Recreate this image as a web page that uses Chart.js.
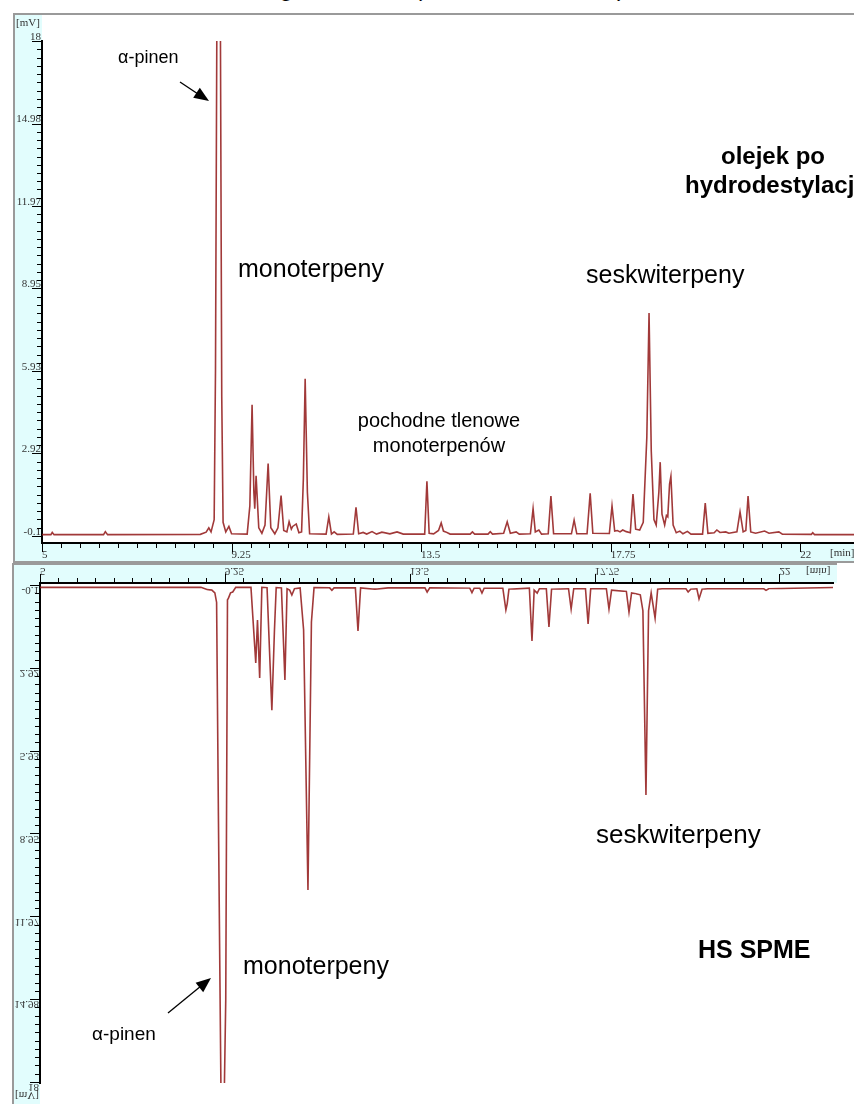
<!DOCTYPE html>
<html lang="pl">
<head>
<meta charset="UTF-8">
<title>Porównanie chromatogramów</title>
<script src="https://cdn.jsdelivr.net/npm/chart.js"></script>
<style>
  html, body { margin: 0; padding: 0; width: 854px; height: 1104px; overflow: hidden; background: #fff; }
  body { position: relative; font-family: "Liberation Sans", Arial, sans-serif; color: #000; }
  canvas { position: absolute; }
  #topChart { left: 13px; top: 13px; }
  #hsChart { left: 12px; top: 563px; transform: scaleY(-1); }
  .lbl { position: absolute; white-space: nowrap; line-height: 1; }
  .bold { font-weight: bold; }
  .center { transform: translateX(-50%); text-align: center; }
  svg { position: absolute; left: 0; top: 0; }
</style>
</head>
<body>
  <div class="lbl" style="left:46px; top:-24px; font-size:24px;">Porównanie chromatogramów GC (kolumna DB-5 MS)</div>

  <canvas id="topChart" width="843" height="550"></canvas>
  <canvas id="hsChart" width="825" height="543"></canvas>

  <!-- opisy: olejek -->
  <div class="lbl" style="left:118px; top:48px; font-size:18px;">α-pinen</div>
  <div class="lbl" style="left:238px; top:256px; font-size:25px;">monoterpeny</div>
  <div class="lbl" style="left:586px; top:262px; font-size:25px;">seskwiterpeny</div>
  <div class="lbl center" style="left:439px; top:410px; font-size:20px;">pochodne tlenowe</div>
  <div class="lbl center" style="left:439px; top:435px; font-size:20px;">monoterpenów</div>
  <div class="lbl bold center" style="left:773px; top:144px; font-size:24px;">olejek po</div>
  <div class="lbl bold center" style="left:773px; top:173px; font-size:24px;">hydrodestylacji</div>

  <!-- opisy: HS SPME -->
  <div class="lbl" style="left:596px; top:821px; font-size:26px;">seskwiterpeny</div>
  <div class="lbl" style="left:243px; top:953px; font-size:25px;">monoterpeny</div>
  <div class="lbl bold" style="left:698px; top:937px; font-size:25px;">HS SPME</div>
  <div class="lbl" style="left:92px; top:1024px; font-size:19px;">α-pinen</div>

  <svg width="854" height="1104">
    <line x1="180" y1="82" x2="198" y2="94" stroke="#000" stroke-width="1.3"/>
    <polygon points="209,101 193.2,97.8 199.8,87.8" fill="#000"/>
    <line x1="168" y1="1013" x2="201" y2="986" stroke="#000" stroke-width="1.3"/>
    <polygon points="211,978 203.2,992.2 195.6,982.8" fill="#000"/>
  </svg>

<script>
  // osie
  const X_TICK_LABELS = ['5', '9.25', '13.5', '17.75', '22'];
  const Y_TICK_LABELS = ['-0.1', '2.92', '5.93', '8.95', '11.97', '14.98', '18'];

  // olejek po hydrodestylacji: czas [min], sygnał [mV]
  const topTime = [
    5.00, 5.20, 5.23, 5.27, 6.38, 6.42, 6.47, 8.55, 8.68, 8.74, 8.79, 8.86, 8.89, 8.92, 8.96, 9.00, 9.03, 9.06,
    9.12, 9.19, 9.25, 9.60, 9.66, 9.71, 9.75, 9.77, 9.80, 9.86, 9.93, 10.00, 10.07, 10.13, 10.22, 10.29, 10.36,
    10.42, 10.49, 10.54, 10.59, 10.62, 10.70, 10.76, 10.82, 10.86, 10.90, 10.95, 11.00, 11.37, 11.43, 11.49,
    11.55, 11.62, 11.98, 12.04, 12.10, 12.20, 12.28, 12.40, 12.50, 12.62, 12.80, 12.96, 13.10, 13.58, 13.63,
    13.68, 13.78, 13.89, 13.95, 14.00, 14.05, 14.15, 14.60, 14.65, 14.70, 15.00, 15.05, 15.10, 15.35, 15.43,
    15.50, 15.63, 15.70, 15.95, 16.01, 16.06, 16.14, 16.20, 16.35, 16.41, 16.47, 16.87, 16.93, 16.99, 17.22,
    17.29, 17.35, 17.72, 17.78, 17.84, 17.90, 17.96, 18.02, 18.10, 18.19, 18.25, 18.31, 18.40, 18.48, 18.56,
    18.61, 18.66, 18.72, 18.77, 18.83, 18.86, 18.90, 18.96, 19.00, 19.03, 19.07, 19.10, 19.15, 19.22, 19.30,
    19.37, 19.47, 19.55, 19.81, 19.87, 19.93, 20.07, 20.13, 20.20, 20.33, 20.40, 20.58, 20.65, 20.72, 20.78,
    20.83, 20.89, 21.00, 21.20, 21.30, 21.52, 21.60, 22.25, 22.28, 22.32, 23.30
  ];
  const topSignal = [
    -0.05, -0.05, 0.03, -0.05, -0.05, 0.06, -0.05, -0.04, 0.04, 0.20, 0.05, 0.50, 6.00, 18.5, 22.0, 18.5, 5.00, 0.40,
    0.05, 0.25, -0.02, -0.03, 1.00, 4.70, 1.50, 0.90, 2.10, 0.20, 0.00, 0.30, 2.55, 0.20, -0.02, 0.20, 1.38,
    0.10, 0.05, 0.42, 0.15, 0.25, 0.34, 0.02, 0.05, 2.00, 5.65, 1.50, -0.02, -0.03, 0.60, -0.03,
    0.05, -0.04, -0.03, 0.95, -0.02, 0.03, -0.03, 0.06, -0.03, 0.04, -0.02, 0.05, -0.03, -0.03, 1.90,
    0.00, -0.02, 0.10, 0.38, 0.08, 0.05, -0.03, -0.03, 0.05, -0.03, -0.03, 0.06, -0.03, 0.00, 0.42,
    0.00, 0.05, -0.03, -0.02, 0.90, 0.05, 0.12, -0.03, -0.02, 1.36, -0.02, -0.02, 0.48, -0.02, -0.02,
    1.46, 0.00, -0.01, 1.00, 0.08, 0.10, 0.05, 0.12, 0.06, 0.02, 1.43, 0.15, 0.12, 0.40, 3.50,
    8.05, 3.00, 0.50, 0.30, 1.50, 2.60, 0.70, 0.30, 0.65, 0.60, 1.80, 2.08, 0.30, 0.02, 0.08,
    -0.02, 0.07, -0.03, -0.03, 1.10, 0.00, 0.02, 0.12, 0.03, 0.05, 0.00, 0.05, 0.78, 0.05, 0.10,
    1.36, 0.05, 0.00, 0.08, 0.00, 0.05, -0.03, -0.04, 0.02, -0.05, -0.05
  ];

  // HS SPME: czas [min], sygnał [mV]
  const hsTime = [
    5.00, 8.70, 8.84, 8.95, 9.02, 9.06, 9.10, 9.16, 9.21, 9.27, 9.31, 9.33, 9.38, 9.43, 9.50, 9.85, 9.96, 10.00,
    10.05, 10.10, 10.22, 10.27, 10.33, 10.39, 10.43, 10.55, 10.63, 10.68, 10.74, 10.79, 10.85, 10.98, 11.06,
    11.16, 11.24, 11.30, 11.66, 11.71, 11.76, 12.25, 12.31, 12.37, 12.70, 13.00, 13.85, 13.90, 13.96, 14.88,
    14.93, 14.98, 15.11, 15.16, 15.21, 15.64, 15.71, 15.74, 15.78, 16.25, 16.31, 16.36, 16.43, 16.48, 16.64,
    16.70, 16.76, 17.15, 17.21, 17.27, 17.54, 17.60, 17.66, 18.02, 18.08, 18.14, 18.48, 18.54, 18.60, 18.70,
    18.80, 18.86, 18.93, 18.99, 19.05, 19.14, 19.20, 19.30, 19.85, 19.90, 19.96, 20.10, 20.15, 20.22, 20.35,
    21.64, 21.69, 21.75, 23.30
  ];
  const hsSignal = [
    -0.05, -0.05, 0.03, 0.05, 0.15, 0.50, 8.00, 18.3, 21.0, 15.0, 0.40, 0.35, 0.15, 0.12, -0.05, -0.05, 2.70, 1.14,
    3.25, -0.05, -0.04, 2.00, 4.42, 1.50, -0.04, -0.03, 3.32, 0.00, 0.05, 0.23, 0.00, -0.03, 1.50,
    10.97, 1.20, -0.04, -0.03, 0.06, -0.03, -0.03, 1.54, -0.03, 0.02, -0.03, -0.03, 0.12, -0.03, -0.02,
    0.14, -0.02, -0.02, 0.16, -0.02, -0.02, 0.77, 0.55, 0.02, -0.02, 1.90, 0.05, 0.16, 0.00, 0.00,
    1.39, 0.02, 0.00, 0.74, 0.00, 0.00, 1.28, 0.00, 0.00, 0.74, 0.05, 0.10, 0.85, 0.15, 0.18,
    0.22, 0.80, 7.51, 0.80, 0.15, 1.07, 0.02, 0.00, 0.00, 0.12, 0.02, 0.00, 0.37, 0.02, 0.00,
    0.00, 0.06, 0.00, -0.05
  ];

  const LINE_COLOR = 'rgba(145, 22, 22, 0.85)';
  const BAND_COLOR = '#e2fdfd';
  const FRAME_COLOR = '#9a9a9a';
  const AXIS_FONT = { family: '"Liberation Serif", "DejaVu Serif", serif', size: 11 };

  // major co 10 kresek, pomiędzy 9 mniejszych
  function buildTicks(labels) {
    const majors = labels.map(Number);
    const ticks = [];
    majors.forEach((v, i) => {
      ticks.push({ value: v });
      if (i < majors.length - 1) {
        const step = (majors[i + 1] - v) / 10;
        for (let k = 1; k < 10; k++) ticks.push({ value: v + k * step });
      }
    });
    return ticks;
  }

  function makeDecor(cfg) {
    return {
      id: 'decor',
      beforeDraw(chart) {
        const { ctx, chartArea: a, width, height } = chart;
        ctx.save();
        ctx.fillStyle = '#fff';
        ctx.fillRect(0, 0, width, height);
        ctx.fillStyle = BAND_COLOR;
        ctx.fillRect(0, 0, a.left, height);
        ctx.fillRect(0, a.bottom, width, height - a.bottom);
        ctx.strokeStyle = FRAME_COLOR;
        ctx.lineWidth = 2;
        ctx.beginPath();
        ctx.moveTo(1, 0); ctx.lineTo(1, height);
        if (cfg.frameTop) { ctx.moveTo(0, 1); ctx.lineTo(width, 1); }
        ctx.moveTo(0, height - 1); ctx.lineTo(width, height - 1);
        ctx.stroke();
        ctx.restore();
      },
      afterDraw(chart) {
        const { ctx, chartArea: a, scales: { x, y } } = chart;
        ctx.save();
        ctx.strokeStyle = '#000';
        ctx.lineWidth = 1;
        ctx.beginPath();
        x.ticks.forEach((t, i) => {
          const px = Math.round(x.getPixelForValue(t.value)) + 0.5;
          ctx.moveTo(px, a.bottom);
          ctx.lineTo(px, a.bottom + (i % 10 === 0 ? 9 : 5));
        });
        y.ticks.forEach((t, i) => {
          const py = Math.round(y.getPixelForValue(t.value)) + 0.5;
          ctx.moveTo(a.left, py);
          ctx.lineTo(a.left - (i % 10 === 0 ? 10 : 5), py);
        });
        ctx.stroke();
        ctx.fillStyle = '#333';
        ctx.font = '11px "Liberation Serif", serif';
        ctx.textBaseline = 'middle';
        ctx.fillText('[mV]', 3, cfg.mvY);
        ctx.fillText('[min]', cfg.minX, cfg.minY);
        ctx.restore();
      }
    };
  }

  function drawChromatogram(id, times, signals, cfg) {
    const points = times.map((t, i) => ({ x: t, y: signals[i] }));
    return new Chart(document.getElementById(id), {
      type: 'line',
      data: {
        datasets: [{
          data: points,
          borderColor: LINE_COLOR,
          borderWidth: 1.6,
          pointRadius: 0,
          tension: 0
        }]
      },
      options: {
        responsive: false,
        animation: false,
        events: [],
        layout: { padding: { top: cfg.padTop, right: cfg.padRight, left: 0, bottom: 0 } },
        plugins: { legend: { display: false }, tooltip: { enabled: false } },
        scales: {
          x: {
            type: 'linear',
            min: 5,
            max: cfg.xMax,
            afterBuildTicks: s => { s.ticks = buildTicks(X_TICK_LABELS); },
            afterFit: s => { s.height = cfg.band; },
            grid: { display: false, drawTicks: false },
            border: { display: true, color: '#000', width: 2 },
            ticks: {
              autoSkip: false, maxRotation: 0, align: 'start', padding: cfg.xPad,
              font: AXIS_FONT, color: '#333',
              callback: (v, i) => i % 10 === 0 ? X_TICK_LABELS[i / 10] : ''
            }
          },
          y: {
            min: cfg.yMin,
            max: 18,
            afterBuildTicks: s => { s.ticks = buildTicks(Y_TICK_LABELS); },
            afterFit: s => { s.width = cfg.left; },
            grid: { display: false, drawTicks: false },
            border: { display: true, color: '#000', width: 2 },
            ticks: {
              autoSkip: false, padding: 1, labelOffset: -4,
              font: AXIS_FONT, color: '#333',
              callback: (v, i) => i % 10 === 0 ? Y_TICK_LABELS[i / 10] : ''
            }
          }
        }
      },
      plugins: [makeDecor(cfg)]
    });
  }

  drawChromatogram('topChart', topTime, topSignal, {
    padTop: 28, padRight: 0, band: 20, left: 29, xMax: 23.25, yMin: -0.356,
    xPad: 6, frameTop: true, mvY: 10, minX: 817, minY: 540
  });

  // widmo HS SPME rysowane normalnie, odwrócone w CSS
  drawChromatogram('hsChart', hsTime, hsSignal, {
    padTop: 23, padRight: 4, band: 20, left: 28, xMax: 23.23, yMin: -0.209,
    xPad: 6, frameTop: false, mvY: 11, minX: 794, minY: 535
  });
</script>
</body>
</html>
